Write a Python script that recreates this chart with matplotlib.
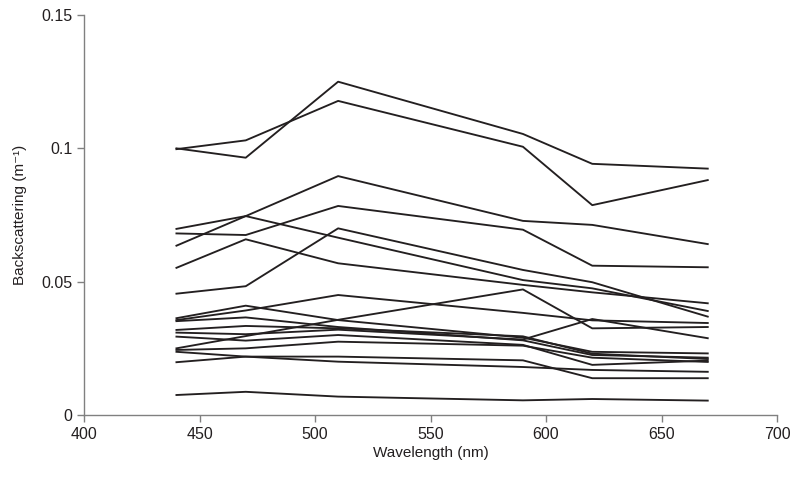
import matplotlib
matplotlib.use("Agg")
import matplotlib.pyplot as plt

plt.rcParams['font.family'] = ['Liberation Sans', 'DejaVu Sans']

wavelength = [440, 470, 510, 590, 620, 670]

# backscattering spectra, one list per sample (m^-1)
s01 = [0.1000, 0.0965, 0.1250, 0.1054, 0.0942, 0.0924]
s02 = [0.0997, 0.1030, 0.1178, 0.1006, 0.0787, 0.0881]
s03 = [0.0635, 0.0746, 0.0896, 0.0728, 0.0713, 0.0641]
s04 = [0.0681, 0.0675, 0.0784, 0.0695, 0.0560, 0.0554]
s05 = [0.0698, 0.0746, 0.0665, 0.0506, 0.0475, 0.0390]
s06 = [0.0552, 0.0659, 0.0569, 0.0488, 0.0460, 0.0419]
s07 = [0.0455, 0.0483, 0.0700, 0.0544, 0.0498, 0.0369]
s08 = [0.0250, 0.0296, 0.0357, 0.0471, 0.0325, 0.0330]
s09 = [0.0356, 0.0392, 0.0450, 0.0383, 0.0355, 0.0345]
s10 = [0.0309, 0.0303, 0.0320, 0.0283, 0.0360, 0.0288]
s11 = [0.0363, 0.0410, 0.0356, 0.0290, 0.0237, 0.0231]
s12 = [0.0352, 0.0366, 0.0330, 0.0280, 0.0225, 0.0215]
s13 = [0.0319, 0.0334, 0.0325, 0.0295, 0.0230, 0.0210]
s14 = [0.0294, 0.0279, 0.0300, 0.0263, 0.0188, 0.0204]
s15 = [0.0244, 0.0250, 0.0275, 0.0260, 0.0215, 0.0199]
s16 = [0.0237, 0.0219, 0.0219, 0.0205, 0.0138, 0.0138]
s17 = [0.0198, 0.0219, 0.0200, 0.0180, 0.0169, 0.0162]
s18 = [0.0075, 0.0087, 0.0069, 0.0055, 0.0060, 0.0054]

samples = [s01, s02, s03, s04, s05, s06, s07, s08, s09,
           s10, s11, s12, s13, s14, s15, s16, s17, s18]

x_ticks = [400, 450, 500, 550, 600, 650, 700]
y_ticks = [0, 0.05, 0.1, 0.15]
y_labels = ['0', '0.05', '0.1', '0.15']

fig = plt.figure(figsize=(8.08, 4.79), dpi=100)
ax = fig.add_axes([0.104, 0.1336, 0.8577, 0.835])

for s in samples:
    ax.plot(wavelength, s, color='#231f20', lw=1.35)

ax.set_xlim(400, 700)
ax.set_ylim(0, 0.15)
ax.set_xticks(x_ticks)
ax.set_yticks(y_ticks)
ax.set_yticklabels(y_labels)

for spine in ['top', 'right']:
    ax.spines[spine].set_visible(False)
for spine in ['left', 'bottom']:
    ax.spines[spine].set_color('#808080')
    ax.spines[spine].set_linewidth(1.0)

ax.tick_params(axis='both', colors='#808080', labelcolor='#231f20',
               labelsize=11.5, length=5, width=1.0, direction='out')

ax.set_xlabel('Wavelength (nm)', fontsize=11, color='#231f20', labelpad=3)
ax.set_ylabel('Backscattering (m\u207b\u00b9)', fontsize=11, color='#231f20', labelpad=10)

plt.savefig('out.png', dpi=100)
